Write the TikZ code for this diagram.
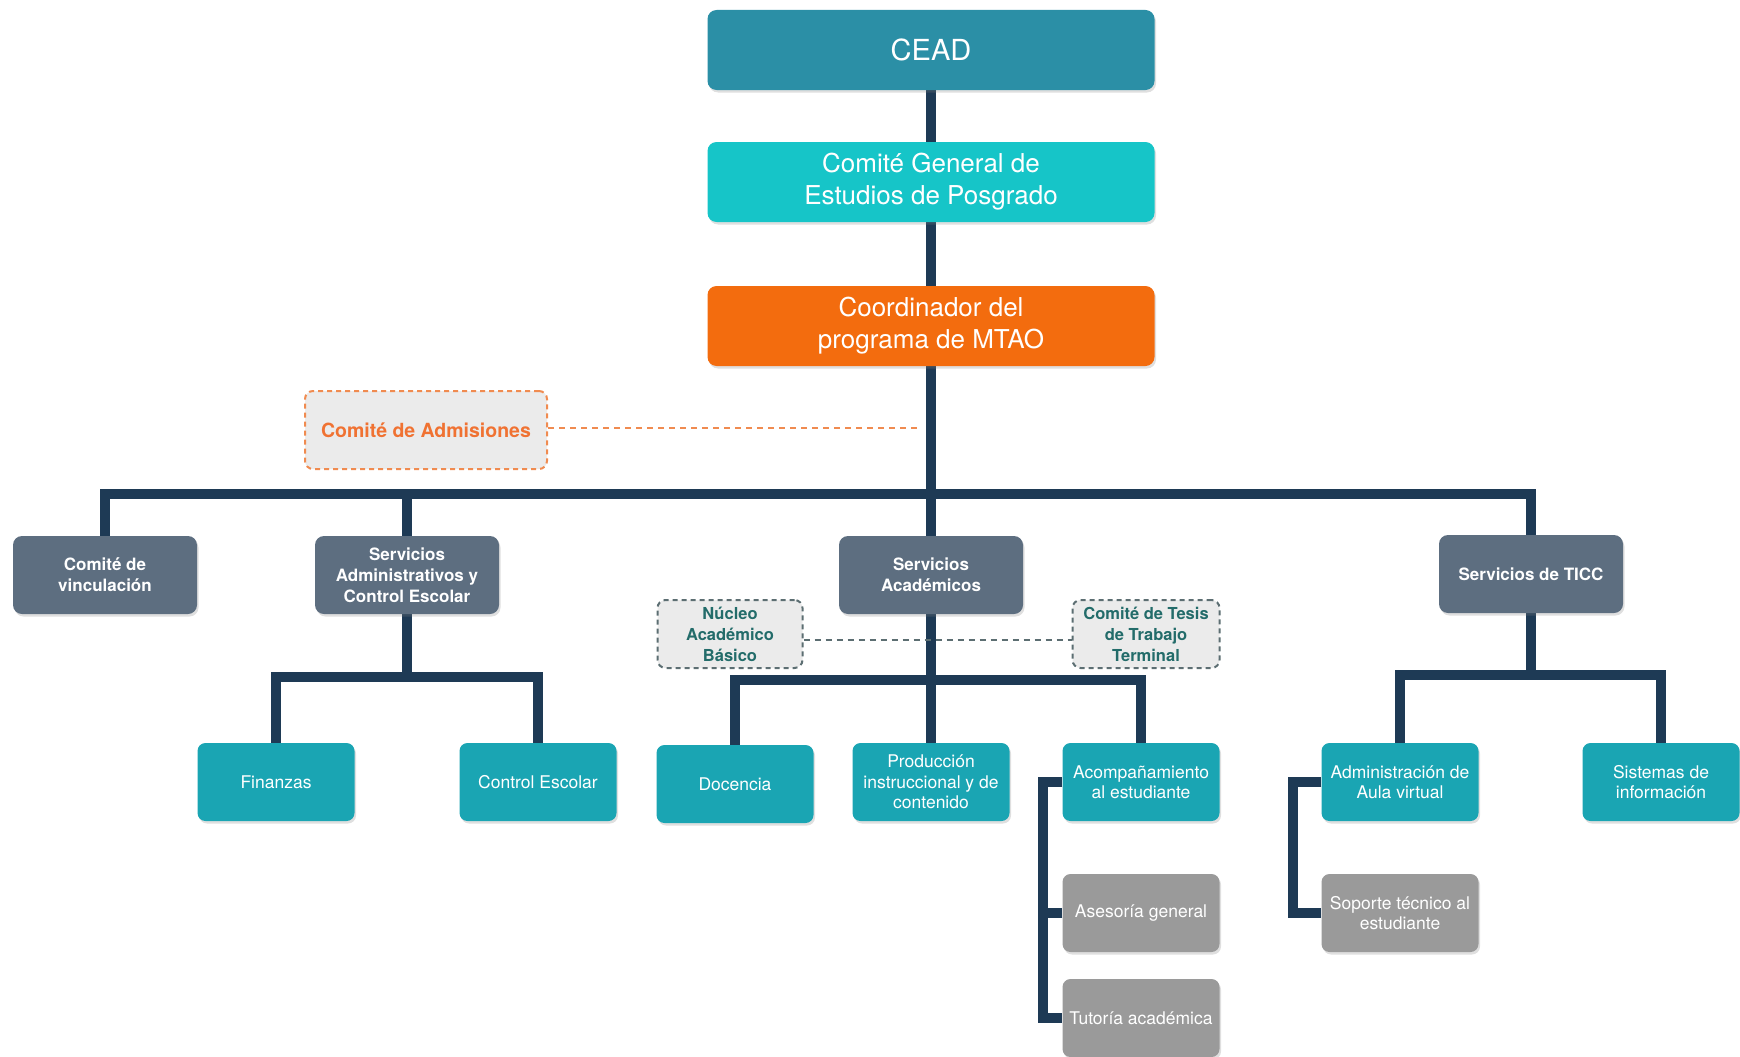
\documentclass[tikz,border=0pt]{standalone}
\usepackage{fontspec}
\setmainfont{TeX Gyre Heros}
\usetikzlibrary{shadows,backgrounds}
\definecolor{cCead}{HTML}{2B8FA6}
\definecolor{cCgep}{HTML}{16C5C8}
\definecolor{cOrange}{HTML}{F36C0E}
\definecolor{cSlate}{HTML}{5D6E80}
\definecolor{cLeaf}{HTML}{1AA5B3}
\definecolor{cGray}{HTML}{9A9A9A}
\definecolor{cLine}{HTML}{1E3A55}
\definecolor{cDash}{HTML}{EBEBEB}
\definecolor{cAdmB}{HTML}{F08B50}
\definecolor{cAdmT}{HTML}{F07232}
\definecolor{cNucB}{HTML}{5C6E72}
\definecolor{cNucT}{HTML}{236C6A}
\begin{document}
\begin{tikzpicture}[x=1pt,y=-1pt,
  box/.style={rounded corners=9pt, text=white, align=center, inner sep=0pt,
    drop shadow={opacity=0.25,shadow xshift=1.5pt,shadow yshift=-2.5pt}},
  topbox/.style={box, minimum width=447pt, minimum height=80pt, font=\fontsize{26}{32}\selectfont},
  midbox/.style={box, fill=cSlate, minimum width=184pt, minimum height=78pt, font=\bfseries\fontsize{17}{21}\selectfont},
  leaf/.style={box, fill=cLeaf, minimum width=157pt, minimum height=78pt, rounded corners=8pt, font=\fontsize{17.5}{20.5}\selectfont},
  grayleaf/.style={leaf, fill=cGray},
  dbox/.style={rounded corners=8pt, line width=2pt, fill=cDash, align=center, inner sep=0pt, dash pattern=on 5pt off 4pt},
  link/.style={draw=cLine, line width=10pt},
]
\useasboundingbox (0,0) rectangle (1740,1057);

% top chain
\node[topbox, fill=cCead, font=\fontsize{29}{34}\selectfont] (cead) at (931,50) {CEAD};
\node[topbox, fill=cCgep] (cgep) at (931,182) {Comité General de\\Estudios de Posgrado};
\node[topbox, fill=cOrange] (coord) at (931,326) {Coordinador del\\programa de MTAO};

\node[dbox, draw=cAdmB, text=cAdmT, minimum width=242pt, minimum height=78pt,
  font=\bfseries\fontsize{19.5}{23}\selectfont] (adm) at (426,430) {Comité de Admisiones};

% second row
\node[midbox] (vinc) at (105,575) {Comité de\\vinculación};
\node[midbox] (sadm) at (407,575) {Servicios\\Administrativos y\\Control Escolar};
\node[midbox] (sacad) at (931,575) {Servicios\\Académicos};
\node[midbox] (sticc) at (1531,574) {Servicios de TICC};

% admin subtree
\node[leaf] (fin) at (276,782) {Finanzas};
\node[leaf] (cesc) at (538,782) {Control Escolar};

% academic subtree
\node[dbox, draw=cNucB, text=cNucT, minimum width=145pt, minimum height=68pt,
  font=\bfseries\fontsize{16.5}{21}\selectfont] (nucleo) at (730,634) {Núcleo\\Académico\\Básico};
\node[dbox, draw=cNucB, text=cNucT, minimum width=147pt, minimum height=68pt,
  font=\bfseries\fontsize{16.5}{21}\selectfont] (tesis) at (1146,634) {Comité de Tesis\\de Trabajo\\Terminal};
\node[leaf] (doc) at (735,784) {Docencia};
\node[leaf] (prod) at (931,782) {Producción\\instruccional y de\\contenido};
\node[leaf] (acomp) at (1141,782) {Acompañamiento\\al estudiante};
\node[grayleaf] (ases) at (1141,913) {Asesoría general};
\node[grayleaf] (tut) at (1141,1018) {Tutoría académica};

% TICC subtree
\node[leaf] (aula) at (1400,782) {Administración de\\Aula virtual};
\node[leaf] (sist) at (1661,782) {Sistemas de\\información};
\node[grayleaf] (sop) at (1400,913) {Soporte técnico al\\estudiante};

% coordinates
\coordinate (bus) at (931,494);
\coordinate (bus1) at (407,677);
\coordinate (bus2) at (931,680);
\coordinate (bus3) at (1531,675);
\coordinate (br1) at (1043,0);
\coordinate (br2) at (1293,0);
\coordinate (admend) at (920,0);

\begin{scope}[on background layer]
  \draw[link] (cead.south) -- (sacad.north);
  \draw[link] (vinc.north) |- (bus) -| (sticc.north);
  \draw[link] (sadm.north) -- (sadm.north |- bus);
  \draw[link] (sadm.south) -- (bus1);
  \draw[link] (fin.north) |- (bus1) -| (cesc.north);
  \draw[link] (sacad.south) -- (prod.north);
  \draw[link] (doc.north) |- (bus2) -| (acomp.north);
  \draw[link] (acomp.west) -- (acomp.west -| br1) |- (tut.west);
  \draw[link] (ases.west) -- (ases.west -| br1);
  \draw[link] (sticc.south) -- (bus3);
  \draw[link] (aula.north) |- (bus3) -| (sist.north);
  \draw[link] (aula.west) -- (aula.west -| br2) |- (sop.west);
  \draw[draw=cAdmB, line width=2pt, dash pattern=on 6pt off 5pt] ([yshift=2pt]adm.east) -- ([yshift=2pt]adm.east -| admend);
\end{scope}
\draw[draw=cNucB, line width=2pt, dash pattern=on 6pt off 5pt] ([yshift=-6pt]nucleo.east) -- ([yshift=-6pt]tesis.west);
\end{tikzpicture}
\end{document}
